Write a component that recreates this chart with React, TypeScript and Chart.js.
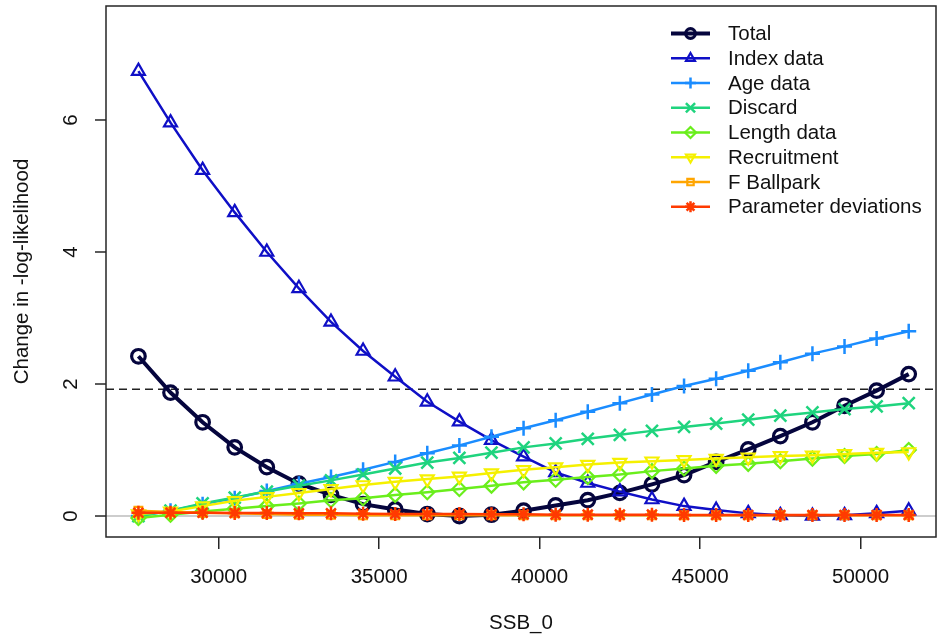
import React, { useEffect, useRef } from 'react';
import { Chart, registerables } from 'chart.js';
import { drawPoint } from 'chart.js/helpers';

Chart.register(...registerables);

// ---------- data ----------
const ssb = [27500, 28500, 29500, 30500, 31500, 32500, 33500, 34500, 35500, 36500, 37500, 38500, 39500,
  40500, 41500, 42500, 43500, 44500, 45500, 46500, 47500, 48500, 49500, 50500, 51500];

const total = [2.42, 1.87, 1.42, 1.04, 0.74, 0.49, 0.32, 0.18, 0.10, 0.03, 0.0, 0.02, 0.08,
  0.16, 0.24, 0.35, 0.48, 0.62, 0.82, 1.01, 1.21, 1.42, 1.67, 1.90, 2.15];
const indexData = [6.74, 5.96, 5.24, 4.60, 4.00, 3.45, 2.94, 2.50, 2.11, 1.73, 1.43, 1.15, 0.90,
  0.66, 0.50, 0.37, 0.25, 0.15, 0.09, 0.04, 0.01, 0.00, 0.01, 0.04, 0.08];
const ageData = [0.00, 0.08, 0.18, 0.27, 0.38, 0.49, 0.59, 0.70, 0.82, 0.95, 1.07, 1.20, 1.33,
  1.45, 1.58, 1.71, 1.84, 1.97, 2.08, 2.20, 2.33, 2.46, 2.57, 2.69, 2.80];
const discard = [0.00, 0.08, 0.19, 0.28, 0.37, 0.46, 0.54, 0.63, 0.72, 0.81, 0.88, 0.96, 1.04,
  1.10, 1.17, 1.23, 1.29, 1.35, 1.40, 1.46, 1.52, 1.57, 1.62, 1.66, 1.71];
const lengthData = [-0.03, 0.02, 0.07, 0.11, 0.15, 0.19, 0.24, 0.27, 0.32, 0.36, 0.41, 0.46, 0.51,
  0.55, 0.59, 0.63, 0.68, 0.72, 0.76, 0.79, 0.83, 0.87, 0.91, 0.94, 1.00];
const recruitment = [0.03, 0.07, 0.15, 0.23, 0.29, 0.35, 0.41, 0.47, 0.52, 0.56, 0.60, 0.65, 0.70,
  0.74, 0.78, 0.81, 0.83, 0.85, 0.87, 0.89, 0.91, 0.92, 0.94, 0.96, 0.97];
const fBallpark = [0.08, 0.06, 0.05, 0.04, 0.03, 0.02, 0.02, 0.01, 0.01, 0.01, 0.01, 0.01, 0.01,
  0.01, 0.01, 0.01, 0.01, 0.01, 0.01, 0.01, 0.01, 0.01, 0.01, 0.01, 0.01];
const paramDev = [0.05, 0.05, 0.05, 0.045, 0.045, 0.04, 0.04, 0.035, 0.03, 0.03, 0.03, 0.025, 0.025,
  0.02, 0.02, 0.02, 0.02, 0.015, 0.015, 0.015, 0.015, 0.015, 0.015, 0.015, 0.015];

const seriesLabels = ['Total', 'Index data', 'Age data', 'Discard', 'Length data', 'Recruitment', 'F Ballpark', 'Parameter deviations'];
const seriesValues = [total, indexData, ageData, discard, lengthData, recruitment, fBallpark, paramDev];

const xTicks = [30000, 35000, 40000, 45000, 50000];
const yTicks = [0, 2, 4, 6];
const chiLine = 1.92;
const zeroLine = 0;

const xTitle = 'SSB_0';
const yTitle = 'Change in -log-likelihood';

// ---------- styles ----------
const FONT = '"Liberation Sans", Arial, Helvetica, sans-serif';
const FS = 20.5;
const styles = [
  { color: '#05053d', style: 'circle', rot: 0, lw: 4, bw: 3.2, r: 6.8, lr: 4.8 },
  { color: '#0f0fc6', style: 'triangle', rot: 0, lw: 2.5, bw: 2.2, r: 7.5, lr: 5.2 },
  { color: '#1a8cff', style: 'cross', rot: 0, lw: 2.5, bw: 2.5, r: 7.5, lr: 5.5 },
  { color: '#1fd47e', style: 'crossRot', rot: 0, lw: 2.5, bw: 2.5, r: 8.5, lr: 6.5 },
  { color: '#6aee1c', style: 'rectRot', rot: 0, lw: 2.5, bw: 2.2, r: 7, lr: 5.5 },
  { color: '#f5f000', style: 'triangle', rot: 180, lw: 2.5, bw: 2.2, r: 7.5, lr: 5.2 },
  { color: '#ffa500', style: 'rect', rot: 0, lw: 2.5, bw: 2.2, r: 5.5, lr: 4.5 },
  { color: '#ff3a00', style: 'star', rot: 0, lw: 2.5, bw: 2.5, r: 7, lr: 5.5 },
];

const decorPlugin = {
  id: 'decor',
  beforeDatasetsDraw(chart: any) {
    const { ctx, chartArea: a, scales } = chart;
    const y = scales.y;
    ctx.save();
    const y0 = y.getPixelForValue(zeroLine);
    ctx.strokeStyle = '#bdbdbd';
    ctx.lineWidth = 1.5;
    ctx.beginPath();
    ctx.moveTo(a.left, y0);
    ctx.lineTo(a.right, y0);
    ctx.stroke();
    const yc = y.getPixelForValue(chiLine);
    ctx.strokeStyle = '#222';
    ctx.lineWidth = 1.5;
    ctx.setLineDash([8, 5]);
    ctx.beginPath();
    ctx.moveTo(a.left, yc);
    ctx.lineTo(a.right, yc);
    ctx.stroke();
    ctx.restore();
  },
  afterDraw(chart: any) {
    const { ctx, chartArea: a, scales } = chart;
    const y = scales.y;
    ctx.save();
    // box
    ctx.strokeStyle = '#262626';
    ctx.lineWidth = 1.5;
    ctx.strokeRect(a.left, a.top, a.right - a.left, a.bottom - a.top);
    // y ticks + rotated labels
    ctx.fillStyle = '#111';
    ctx.font = `${FS}px ${FONT}`;
    ctx.textAlign = 'center';
    ctx.textBaseline = 'middle';
    y.ticks.forEach((t: any) => {
      const py = y.getPixelForValue(t.value);
      ctx.beginPath();
      ctx.moveTo(a.left - 11, py);
      ctx.lineTo(a.left, py);
      ctx.stroke();
      ctx.save();
      ctx.translate(71, py);
      ctx.rotate(-Math.PI / 2);
      ctx.fillText(String(t.value), 0, 0);
      ctx.restore();
    });
    // legend
    const ds = chart.data.datasets;
    ds.forEach((d: any, i: number) => {
      const s = styles[i];
      const ly = 33.5 + i * 24.76;
      ctx.strokeStyle = s.color;
      ctx.fillStyle = 'rgba(0,0,0,0)';
      ctx.lineWidth = s.lw;
      ctx.setLineDash([]);
      ctx.beginPath();
      ctx.moveTo(671, ly);
      ctx.lineTo(710, ly);
      ctx.stroke();
      ctx.lineWidth = s.bw;
      drawPoint(ctx, { pointStyle: s.style, rotation: s.rot, radius: s.lr, borderWidth: s.bw } as any, 690.5, ly);
      ctx.fillStyle = '#111';
      ctx.textAlign = 'left';
      ctx.textBaseline = 'middle';
      ctx.font = `${FS}px ${FONT}`;
      ctx.fillText(d.label, 728, ly + 1);
    });
    ctx.restore();
  },
};

export default function App() {
  const ref = useRef<HTMLCanvasElement | null>(null);
  useEffect(() => {
    document.body.style.margin = '0';
    const canvas = ref.current;
    if (!canvas) return;
    const datasets = seriesLabels.map((label, i) => {
      const s = styles[i];
      return {
        label,
        data: ssb.map((x, j) => ({ x, y: seriesValues[i][j] })),
        borderColor: s.color,
        backgroundColor: 'rgba(0,0,0,0)',
        borderWidth: s.lw,
        pointStyle: s.style,
        pointRotation: s.rot,
        pointRadius: s.r,
        pointBorderWidth: s.bw,
        pointBorderColor: s.color,
        pointBackgroundColor: 'rgba(0,0,0,0)',
        tension: 0,
        fill: false,
        order: seriesLabels.length - i,
      };
    });
    const chart = new Chart(canvas, {
      type: 'line',
      data: { datasets },
      options: {
        animation: false,
        responsive: false,
        devicePixelRatio: 1,
        layout: { autoPadding: false, padding: { top: 6, right: 2, left: 0, bottom: 0 } },
        plugins: { legend: { display: false }, tooltip: { enabled: false } },
        scales: {
          x: {
            type: 'linear',
            min: 26490,
            max: 52350,
            afterBuildTicks: (s: any) => { s.ticks = xTicks.map((v) => ({ value: v })); },
            afterFit: (s: any) => { s.height = 102; },
            border: { display: false },
            grid: { display: true, drawOnChartArea: false, drawTicks: true, tickLength: 12, color: '#262626', lineWidth: 1.5 },
            ticks: { color: '#111', font: { family: FONT, size: FS }, padding: 16, maxRotation: 0, autoSkip: false, callback: (v: any) => String(v) },
            title: { display: true, text: xTitle, color: '#111', font: { family: FONT, size: FS }, padding: { top: 0, bottom: 3 } },
          },
          y: {
            type: 'linear',
            min: -0.318,
            max: 7.727,
            afterBuildTicks: (s: any) => { s.ticks = yTicks.map((v) => ({ value: v })); },
            afterFit: (s: any) => { s.width = 106; },
            border: { display: false },
            grid: { display: false },
            ticks: { display: false },
            title: { display: true, text: yTitle, color: '#111', font: { family: FONT, size: FS }, padding: { top: 10, bottom: 0 } },
          },
        },
      },
      plugins: [decorPlugin],
    } as any);
    return () => chart.destroy();
  }, []);
  return (
    <div style={{ width: 938, height: 639 }}>
      <canvas ref={ref} width={938} height={639} style={{ display: 'block', width: 938, height: 639 }} />
    </div>
  );
}
